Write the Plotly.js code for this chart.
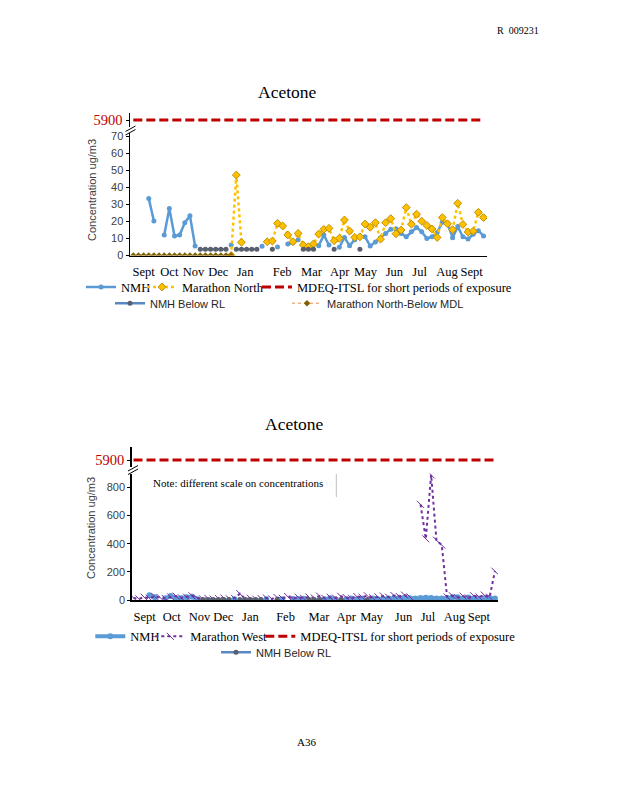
<!DOCTYPE html>
<html><head><meta charset="utf-8">
<script src="https://cdn.plot.ly/plotly-3.0.1.min.js"></script>
<style>html,body{margin:0;padding:0;background:#fff;}#chart{width:618px;height:800px;}</style>
</head><body><div id="chart"></div>
<script>
// sample number (category position) 0..68
const samples = [0,1,2,3,4,5,6,7,8,9,10,11,12,13,14,15,16,17,18,19,20,21,22,23,24,25,26,27,28,29,30,31,32,33,34,35,36,37,38,39,40,41,42,43,44,45,46,47,48,49,50,51,52,53,54,55,56,57,58,59,60,61,62,63,64,65,66,67,68];
const monthLabels = ['Sept','Oct','Nov','Dec','Jan','Feb','Mar','Apr','May','Jun','Jul','Aug','Sept'];
const monthPosTop = [2,7,11.7,16.5,21.7,28.9,34.6,40.1,45.1,50.7,55.6,60.9,65.7];
const monthPosBottom = [2.1,7.2,12.4,16.9,22,28.6,34.9,40,44.8,50.8,55.4,60.4,65];
const n = null;
const nmh = [n,n,n,33.6,20.3,n,12,27.7,11.5,12,19.3,23.4,5.6,n,n,n,n,n,n,6.2,n,n,n,n,n,5.4,n,n,5,n,6.8,7.5,9.3,n,n,n,5.8,12,6.2,n,4.8,10.6,5.8,9.3,n,11,5.6,8,10.5,13,15.5,15.8,13,11,14,16.5,14,10,11,13.5,19.5,19,10.5,17,11,9.7,12.5,14.6,11.5];
const nmhBelowRL = [n,n,n,n,n,n,n,n,n,n,n,n,n,3.7,3.7,3.7,3.7,3.7,3.7,n,3.7,3.7,3.7,3.7,3.7,n,n,3.7,n,n,n,n,n,3.7,3.7,3.7,n,n,n,3.7,n,n,n,n,3.7,n,n,n,n,n,n,n,n,n,n,n,n,n,n,n,n,n,n,n,n,n,n,n,n];
const marathonNorth = [n,n,n,n,n,n,n,n,n,n,n,n,n,n,n,n,n,n,n,0,47.3,7.8,n,n,n,n,8.1,8.5,18.9,17.4,12.1,8.1,13,6.2,5.2,6.8,12.6,15.4,16,8.7,10.1,20.9,14.4,10.7,11,18.5,16.6,19.3,9.6,19.3,21.7,12.8,15,28.2,18.4,24.3,20.2,17.7,15.6,10.6,22.3,18.7,15.2,30.7,18.3,13.8,14.3,25.4,22.3];
const marathonNorthBelowMDL = [0,0,0,0,0,0,0,0,0,0,0,0,0,0,0,0,0,0,0,0,n,n,n,n,n,n,n,n,n,n,n,n,n,n,n,n,n,n,n,n,n,n,n,n,n,n,n,n,n,n,n,n,n,n,n,n,n,n,n,n,n,n,n,n,n,n,n,n,n];
const marathonWest = [15,8,20,12,25,18,10,22,28,15,20,30,14,8,12,6,10,14,9,12,45,8,12,6,10,14,8,18,12,25,10,20,12,22,15,28,12,20,14,26,18,12,25,20,30,16,22,28,20,32,25,35,22,n,680,435,890,425,390,22,30,18,28,15,30,22,35,20,205];
const itslLimit = 5900;
const itsl = samples.map(() => itslLimit);

const W = 618, H = 800;
const px = v => v / W, py = v => (H - v) / H;

const serif = 'Liberation Serif, Times New Roman, serif';
const sans = 'Liberation Sans, Arial, sans-serif';
const blue = '#5B9BD5', gold = '#FFC000', red = '#C00000', purple = '#7030A0';

const traces = [
  {x: samples, y: nmh, xaxis:'x', yaxis:'y', name:'NMH', mode:'lines+markers', connectgaps:false,
   line:{color:blue, width:2.5}, marker:{size:5, color:blue}, legend:'legend'},
  {x: samples, y: marathonNorth, xaxis:'x', yaxis:'y', name:'Marathon North', mode:'lines+markers',
   line:{color:gold, width:2.5, dash:'dot'}, marker:{symbol:'diamond', size:6, color:gold, line:{color:'#BF8F00', width:1}}, legend:'legend2'},
  {x: samples, y: itsl, xaxis:'x', yaxis:'y2', name:'MDEQ-ITSL for short periods of exposure', mode:'lines',
   line:{color:red, width:3, dash:'9px,4px'}, legend:'legend3'},
  {x: samples, y: nmhBelowRL, xaxis:'x', yaxis:'y', name:'NMH Below RL', mode:'lines+markers',
   line:{color:'#5B87C4', width:2.5}, marker:{size:5, color:'#595F6B'}, legend:'legend4'},
  {x: samples, y: marathonNorthBelowMDL, xaxis:'x', yaxis:'y', name:'Marathon North-Below MDL', mode:'lines+markers',
   line:{color:'#F4B183', width:1.5, dash:'dot'}, marker:{symbol:'diamond', size:5, color:'#7F6000'}, legend:'legend5'},

  {x: samples, y: nmh, xaxis:'x2', yaxis:'y3', name:'NMH', mode:'lines+markers',
   line:{color:blue, width:4}, marker:{size:6, color:blue}, legend:'legend6'},
  {x: samples, y: marathonWest, xaxis:'x2', yaxis:'y3', name:'Marathon West', mode:'lines+markers',
   line:{color:purple, width:2, dash:'dot'}, marker:{symbol:'line-nw', size:7, color:purple, line:{color:purple, width:1}}, legend:'legend7'},
  {x: samples, y: itsl, xaxis:'x2', yaxis:'y4', name:'MDEQ-ITSL for short periods of exposure', mode:'lines',
   line:{color:red, width:3, dash:'9px,4px'}, legend:'legend8'},
  {x: samples, y: nmhBelowRL, xaxis:'x2', yaxis:'y3', name:'NMH Below RL', mode:'lines+markers',
   line:{color:'#5B87C4', width:2.5}, marker:{size:5, color:'#595F6B'}, legend:'legend9'}
];

function leg(xp, yp, font) {
  return {x: px(xp), y: py(yp), xanchor:'left', yanchor:'middle', orientation:'h',
          bgcolor:'rgba(0,0,0,0)', borderwidth:0, font: font};
}
const f1 = {family: serif, size: 12.5, color:'#000'};
const f2 = {family: sans, size: 11, color:'#262626'};

const axCommon = {showgrid:false, zeroline:false, showline:true, linecolor:'#000', linewidth:1.5};
const layout = {
  width: W, height: H, margin:{l:0,r:0,t:0,b:0}, paper_bgcolor:'#fff', plot_bgcolor:'rgba(0,0,0,0)',
  showlegend: true, hovermode:false,
  xaxis: Object.assign({}, axCommon, {domain:[px(130), px(487)], range:[-0.64, 68.68], anchor:'y',
    tickmode:'array', tickvals: monthPosTop, ticktext: monthLabels, ticks:'', tickangle:0,
    tickfont:{family: serif, size:12.5, color:'#000'}, ticklabelstandoff: 4}),
  yaxis: Object.assign({}, axCommon, {domain:[py(255.5), py(133)], range:[0, 72.06], anchor:'x',
    tickmode:'array', tickvals:[0,10,20,30,40,50,60,70], ticks:'outside', ticklen:3, tickcolor:'#000',
    tickfont:{family: sans, size:11, color:'#404040'}}),
  yaxis2: Object.assign({}, axCommon, {domain:[py(127), py(113)], range:[5893, 5907], anchor:'x',
    tickmode:'array', tickvals:[5900], ticks:'outside', ticklen:3, tickcolor:'#000',
    tickfont:{family: serif, size:14.5, color:red}}),
  xaxis2: Object.assign({}, axCommon, {domain:[px(131.7), px(498)], range:[-0.34, 68.58], anchor:'y3',
    tickmode:'array', tickvals: monthPosBottom, ticktext: monthLabels, ticks:'', tickangle:0,
    tickfont:{family: serif, size:12.5, color:'#000'}, ticklabelstandoff: 4}),
  yaxis3: Object.assign({}, axCommon, {domain:[py(600), py(473.5)], range:[0, 899.7], anchor:'x2',
    tickmode:'array', tickvals:[0,200,400,600,800], ticks:'outside', ticklen:3, tickcolor:'#000',
    tickfont:{family: sans, size:11, color:'#404040'}}),
  yaxis4: Object.assign({}, axCommon, {domain:[py(467), py(447)], range:[5893, 5913], anchor:'x2',
    tickmode:'array', tickvals:[5900], ticks:'outside', ticklen:3, tickcolor:'#000',
    tickfont:{family: serif, size:14.5, color:red}}),
  legend: leg(81, 287.3, f1),
  legend2: leg(142, 287.3, f1),
  legend3: leg(257, 287.3, f1),
  legend4: leg(110, 303.3, f2),
  legend5: leg(287, 303.3, f2),
  legend6: leg(90.3, 636.7, f1),
  legend7: leg(150.3, 636.7, f1),
  legend8: leg(260.3, 636.7, f1),
  legend9: leg(216, 652.3, f2),
  annotations: [
    {text:'Acetone', x:px(287.5), y:py(91.7), xref:'paper', yref:'paper', showarrow:false, xanchor:'center', yanchor:'middle', font:{family: serif, size:17.5, color:'#000'}},
    {text:'Acetone', x:px(294), y:py(424), xref:'paper', yref:'paper', showarrow:false, xanchor:'center', yanchor:'middle', font:{family: serif, size:17.5, color:'#000'}},
    {text:'Concentration ug/m3', x:px(92), y:py(190), xref:'paper', yref:'paper', showarrow:false, textangle:-90, xanchor:'center', yanchor:'middle', font:{family: sans, size:11, color:'#404040'}},
    {text:'Concentration ug/m3', x:px(91), y:py(528), xref:'paper', yref:'paper', showarrow:false, textangle:-90, xanchor:'center', yanchor:'middle', font:{family: sans, size:11, color:'#404040'}},
    {text:'Note: different scale on concentrations', x:px(150.7), y:py(483), xref:'paper', yref:'paper', showarrow:false, xanchor:'left', yanchor:'middle', font:{family: serif, size:11, color:'#000'}},
    {text:'R&nbsp;&nbsp;009231', x:px(518), y:py(30.7), xref:'paper', yref:'paper', showarrow:false, xanchor:'center', yanchor:'middle', font:{family: serif, size:10, color:'#000'}},
    {text:'A36', x:px(306.7), y:py(742), xref:'paper', yref:'paper', showarrow:false, xanchor:'center', yanchor:'middle', font:{family: serif, size:11, color:'#000'}}
  ],
  shapes: [
    {type:'line', xref:'paper', yref:'paper', x0:px(125.5), y0:py(131.5), x1:px(135.5), y1:py(126), line:{color:'#000', width:1}},
    {type:'line', xref:'paper', yref:'paper', x0:px(125.5), y0:py(135), x1:px(135.5), y1:py(129.5), line:{color:'#000', width:1}},
    {type:'line', xref:'paper', yref:'paper', x0:px(128), y0:py(471), x1:px(138), y1:py(465.5), line:{color:'#000', width:1}},
    {type:'line', xref:'paper', yref:'paper', x0:px(128), y0:py(474.5), x1:px(138), y1:py(469), line:{color:'#000', width:1}},
    {type:'line', xref:'paper', yref:'paper', x0:px(336.3), y0:py(474), x1:px(336.3), y1:py(497), line:{color:'#BFBFBF', width:1}}
  ]
};

Plotly.newPlot('chart', traces, layout, {displayModeBar:false, staticPlot:true});
</script></body></html>
